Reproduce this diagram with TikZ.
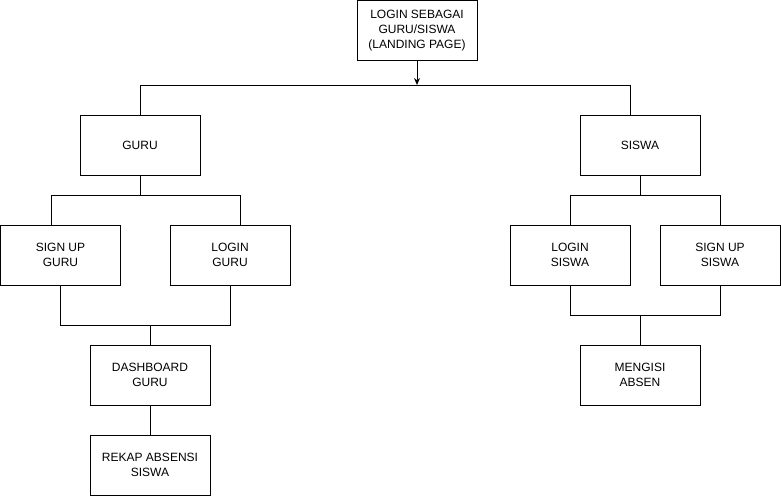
\documentclass[tikz,border=0pt]{standalone}
\usepackage{fontspec}
\setmainfont{Liberation Sans}
\usetikzlibrary{arrows.meta}

\begin{document}
\begin{tikzpicture}[x=1pt,y=-1pt,line width=1pt,
  box/.style={draw,minimum width=120pt,minimum height=60pt,align=center,inner sep=0pt,font=\fontsize{12}{15}\selectfont}]

\useasboundingbox (0,0) rectangle (781,496);

\node[box] (login) at (417,30.5) {LOGIN SEBAGAI\\GURU/SISWA\\(LANDING PAGE)};

\node[box] (guru) at (140,145) {GURU};
\node[box] (siswa) at (640,145) {SISWA};

\node[box] (signupguru) at (60.5,255) {SIGN UP\\GURU};
\node[box] (loginguru) at (230,255) {LOGIN\\GURU};
\node[box] (loginsiswa) at (570,255) {LOGIN\\SISWA};
\node[box] (signupsiswa) at (720,255) {SIGN UP\\SISWA};

\node[box] (dashboard) at (150,375) {DASHBOARD\\GURU};
\node[box] (rekap) at (150,465) {REKAP ABSENSI\\SISWA};
\node[box] (mengisi) at (640,375) {MENGISI\\ABSEN};

% bus lines
\coordinate (top) at (417,85);
\coordinate (busl) at (140,85);
\coordinate (busr) at (630,85);
\coordinate (gurul) at (51,195);
\coordinate (gurur) at (240,195);
\coordinate (siswal) at (570,195);
\coordinate (siswar) at (720,195);
\coordinate (joinguru) at (150,325);
\coordinate (joinsiswa) at (640,315);

\draw [-{Stealth[length=7pt,width=6pt]}] (login) -- (top);
\draw (guru.north) -- (busl) -- (busr) -- (busr |- siswa.north);

\draw (guru) -- (guru.south |- gurul);
\draw (gurul |- signupguru.north) -- (gurul) -- (gurur) -- (gurur |- loginguru.north);
\draw (siswa) -- (siswa.south |- siswal);
\draw (loginsiswa) -- (siswal) -- (siswar) -- (signupsiswa);

\draw (signupguru) -- (signupguru |- joinguru) -- (loginguru |- joinguru) -- (loginguru);
\draw (joinguru) -- (dashboard);
\draw (dashboard) -- (rekap);

\draw (loginsiswa) -- (loginsiswa |- joinsiswa) -- (signupsiswa |- joinsiswa) -- (signupsiswa);
\draw (joinsiswa) -- (mengisi);
\end{tikzpicture}
\end{document}
